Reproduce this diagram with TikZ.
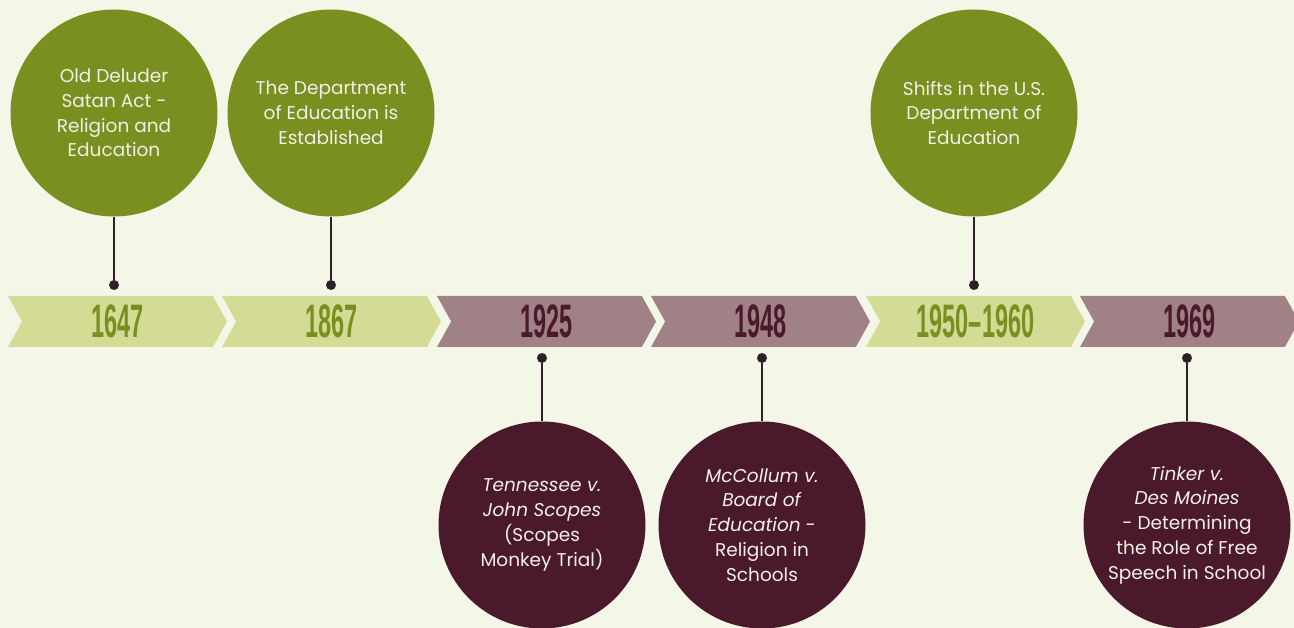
\documentclass[tikz,border=0pt]{standalone}
\usepackage{fontspec}
\usepackage{graphicx}
\setmainfont{Poppins}
\newfontfamily\yearfont[Ligatures=TeX]{Liberation Sans}
\usetikzlibrary{shapes.symbols}

\definecolor{bgcream}{HTML}{F4F6E7}
\definecolor{olive}{HTML}{798F20}
\definecolor{lightolive}{HTML}{D4DB94}
\definecolor{maroon}{HTML}{4A192B}
\definecolor{mauve}{HTML}{A08286}
\definecolor{pinblack}{HTML}{2A2226}
\definecolor{paper}{HTML}{F2EFE8}

% condensed year numbers
\newcommand{\yr}[1]{\scalebox{0.5}[1]{\yearfont\bfseries #1}}

\begin{document}
\begin{tikzpicture}[
    x=1pt, y=-1pt,
    year/.style={signal, signal from=west, signal to=east, signal pointer angle=122,
        minimum width=219pt, minimum height=51pt, inner sep=0pt,
        font=\fontsize{47}{47}\selectfont},
    event/.style={circle, minimum size=207pt, inner sep=0pt, align=center, text=paper,
        font=\fontsize{18.5}{24.8}\selectfont},
    pin/.style={circle, fill=pinblack, minimum size=10pt, inner sep=0pt},
    stem/.style={line width=2.7pt, pinblack}
]
\useasboundingbox (0,0) rectangle (1294,628);
\fill[bgcream] (0,0) rectangle (1294,628);

% year band
\node[year, fill=lightolive, text=olive] (y1647) at (117.5,321.5) {\yr{1647}};
\node[year, fill=lightolive, text=olive] (y1867) at (331.5,321.5) {\yr{1867}};
\node[year, fill=mauve, text=maroon] (y1925) at (546.5,321.5) {\yr{1925}};
\node[year, fill=mauve, text=maroon] (y1948) at (760.5,321.5) {\yr{1948}};
\node[year, fill=lightolive, text=olive] (y1950) at (975.5,321.5) {\yr{1950--1960}};
\node[year, fill=mauve, text=maroon] (y1969) at (1189.5,321.5) {\yr{1969}};

% events above the band
\node[event, fill=olive] (e1647) at (114,113) {Old Deluder\\Satan Act -\\Religion and\\Education};
\node[event, fill=olive] (e1867) at (331,113) {The Department\\of Education is\\Established};
\node[event, fill=olive] (e1950) at (974,113) {Shifts in the U.S.\\Department of\\Education};
\node[pin] (p1647) at (114,285) {};
\node[pin] (p1867) at (331,285) {};
\node[pin] (p1950) at (974,285) {};
\draw[stem] (e1647) -- (p1647);
\draw[stem] (e1867) -- (p1867);
\draw[stem] (e1950) -- (p1950);

% events below the band
\node[event, fill=maroon] (e1925) at (542,525) {\textit{Tennessee v.}\\\textit{John Scopes}\\(Scopes\\Monkey Trial)};
\node[event, fill=maroon] (e1948) at (762,525) {\textit{McCollum v.}\\\textit{Board of}\\\textit{Education} -\\Religion in\\Schools};
\node[event, fill=maroon] (e1969) at (1187,525) {\textit{Tinker v.}\\\textit{Des Moines}\\- Determining\\the Role of Free\\Speech in School};
\node[pin] (p1925) at (542,358) {};
\node[pin] (p1948) at (762,358) {};
\node[pin] (p1969) at (1187,358) {};
\draw[stem] (p1925) -- (e1925);
\draw[stem] (p1948) -- (e1948);
\draw[stem] (p1969) -- (e1969);
\end{tikzpicture}
\end{document}
